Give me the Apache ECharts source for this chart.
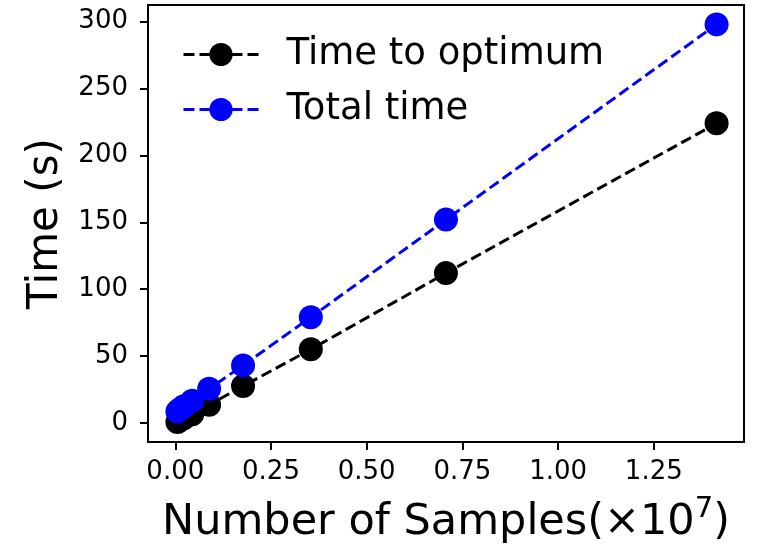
<!DOCTYPE html>
<html>
<head>
<meta charset="utf-8"/>
<script src="https://cdn.jsdelivr.net/npm/echarts@6/dist/echarts.min.js"></script>
<style>
html,body{margin:0;padding:0;background:#fff;}
#main{width:757px;height:545px;}
</style>
</head>
<body>
<div id="main"></div>
<script>
// samples (x 1e7)
var samples = [0.0055, 0.011, 0.0221, 0.0442, 0.0884, 0.177, 0.354, 0.707, 1.414];
var timeOptimum = [0.7, 1.7, 3.4, 6.5, 13.5, 27.5, 55, 112, 224];
var totalTime = [8.5, 10, 12.5, 16.5, 25.5, 43, 79, 152, 298];
var xTicks = [0, 0.25, 0.5, 0.75, 1.0, 1.25];
var yTicks = [0, 50, 100, 150, 200, 250, 300];

function pairs(xs, ys){
  var out = [];
  for(var i=0;i<xs.length;i++){ out.push([xs[i], ys[i]]); }
  return out;
}

var font = 'DejaVu Sans';
var chart = echarts.init(document.getElementById('main'));
var option = {
  animation: false,
  backgroundColor: '#fff',
  textStyle: { fontFamily: font },
  grid: {
    left: 148, right: 13, top: 5, bottom: 103,
    outerBoundsMode: 'none',
    containLabel: false,
    show: true, borderColor: '#000', borderWidth: 2
  },
  legend: {
    orient: 'vertical',
    left: 182, top: 36,
    padding: 0,
    itemWidth: 75, itemHeight: 29, itemGap: 18,
    data: ['Time to optimum', 'Total time'],
    textStyle: { fontSize: 37, color: '#000', fontFamily: font, lineHeight: 29, padding: [0,0,0,23] },
    lineStyle: { width: 3 }
  },
  xAxis: {
    type: 'value',
    min: -0.0713, max: 1.4856,
    name: 'Number of Samples(×10{sup|7})',
    nameLocation: 'middle',
    nameGap: 53,
    nameTextStyle: {
      fontSize: 43, lineHeight: 55, color: '#000', fontFamily: font,
      rich: { sup: { fontSize: 29, lineHeight: 29, verticalAlign: 'top', color: '#000', fontFamily: font } }
    },
    splitLine: { show: false },
    axisLine: { show: false, onZero: false },
    axisTick: { show: true, length: 8, lineStyle: { color: '#000', width: 2 }, customValues: xTicks },
    axisLabel: {
      fontSize: 26, color: '#000', margin: 17,
      customValues: xTicks,
      formatter: function(v){ return v.toFixed(2); }
    }
  },
  yAxis: {
    type: 'value',
    min: -14.3, max: 312.5,
    name: 'Time (s)',
    nameLocation: 'middle',
    nameGap: 80,
    nameTextStyle: { fontSize: 42, color: '#000', fontFamily: font },
    splitLine: { show: false },
    axisLine: { show: false, onZero: false },
    axisTick: { show: true, length: 8, lineStyle: { color: '#000', width: 2 }, customValues: yTicks },
    axisLabel: { fontSize: 26, color: '#000', margin: 20, customValues: yTicks }
  },
  series: [
    {
      name: 'Time to optimum',
      type: 'line',
      data: pairs(samples, timeOptimum),
      symbol: 'circle',
      symbolSize: 24,
      color: '#000',
      itemStyle: { color: '#000' },
      lineStyle: { color: '#000', width: 3, type: [11, 5] }
    },
    {
      name: 'Total time',
      type: 'line',
      data: pairs(samples, totalTime),
      symbol: 'circle',
      symbolSize: 24,
      color: '#0000ff',
      itemStyle: { color: '#0000ff' },
      lineStyle: { color: '#0000ff', width: 3, type: [11, 5] }
    }
  ]
};
chart.setOption(option);
</script>
</body>
</html>
